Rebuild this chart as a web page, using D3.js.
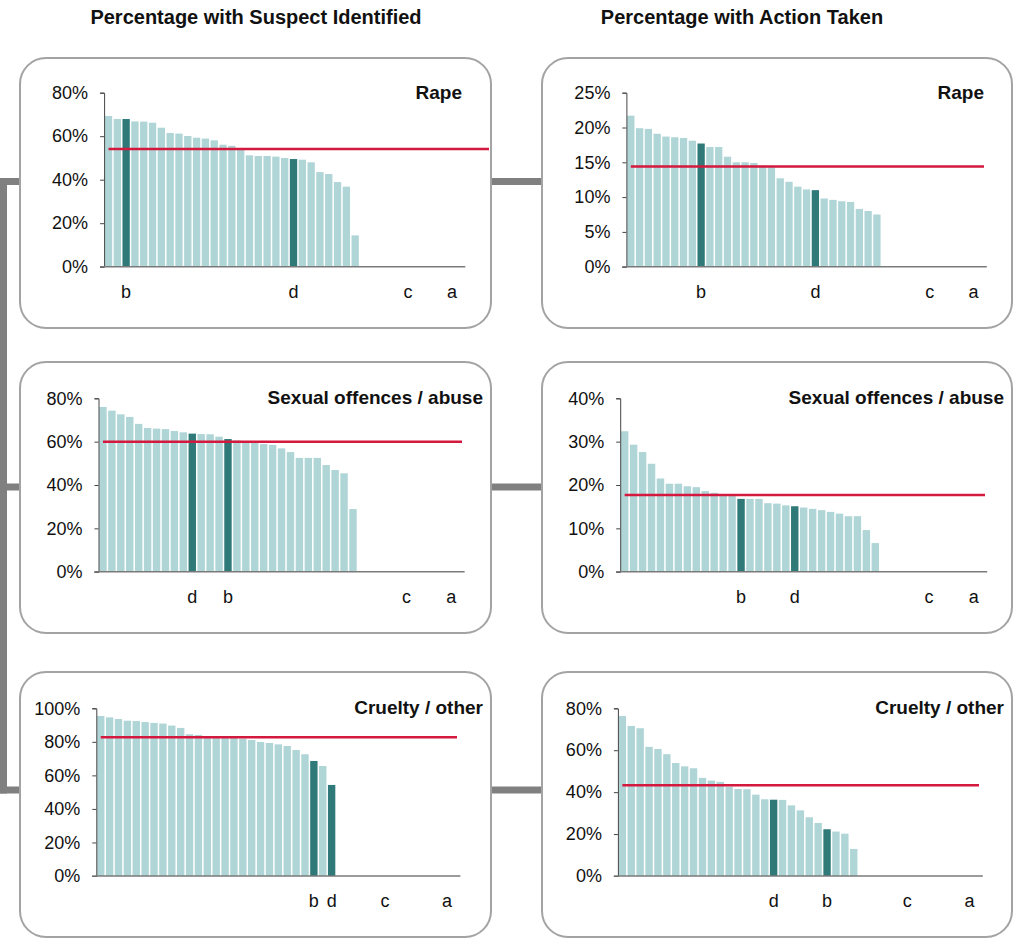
<!DOCTYPE html>
<html>
<head>
<meta charset="utf-8">
<script src="https://cdn.jsdelivr.net/npm/d3@7"></script>
<style>
  html, body { margin: 0; padding: 0; background: #fff; }
  svg { display: block; font-family: "Liberation Sans", Arial, sans-serif; }
</style>
</head>
<body>
<svg id="chart" width="1015" height="940"></svg>
<script>
// ---------- DATA ----------
const columnTitles = ["Percentage with Suspect Identified", "Percentage with Action Taken"];
const panelTitles = ["Rape", "Sexual offences / abuse", "Cruelty / other"];
const categoryCount = 41; // ranked units on each x axis

// Percentage with suspect identified (sorted, %)
const suspectRape = [69.3, 67.9, 67.9, 66.8, 66.7, 66.2, 63.9, 61.5, 61.2, 60.1,
  59.3, 58.9, 58.1, 56.1, 55.6, 54.0, 51.2, 50.9, 50.9, 50.6,
  50.0, 49.5, 49.2, 48.0, 43.5, 42.6, 38.9, 36.8, 14.4];
const suspectSexual = [76.0, 74.3, 72.6, 71.4, 68.2, 66.3, 66.0, 65.8, 64.9, 64.3,
  63.7, 63.5, 63.4, 62.3, 61.2, 60.6, 60.3, 59.5, 58.9, 58.5,
  56.9, 55.2, 52.5, 52.5, 52.5, 49.2, 46.9, 45.4, 28.9];
const suspectCruelty = [95.4, 94.6, 93.6, 92.6, 92.4, 91.8, 91.3, 90.9, 89.7, 88.3,
  84.5, 84.1, 83.1, 82.9, 82.7, 82.5, 81.9, 81.1, 79.9, 79.3,
  78.5, 77.5, 75.1, 72.6, 68.6, 65.6, 54.3];

// Percentage with action taken (sorted, %)
const actionRape = [21.7, 19.9, 19.8, 19.1, 18.7, 18.6, 18.5, 18.1, 17.7, 17.2,
  17.2, 15.8, 15.0, 15.0, 14.9, 14.5, 14.3, 12.7, 12.2, 11.5,
  11.1, 11.0, 9.8, 9.6, 9.4, 9.3, 8.3, 8.0, 7.5];
const actionSexual = [32.4, 29.3, 27.6, 24.9, 21.5, 20.3, 20.3, 19.7, 19.5, 18.6,
  18.2, 17.7, 17.6, 16.8, 16.8, 16.8, 15.8, 15.7, 15.3, 15.1,
  14.8, 14.5, 14.2, 13.8, 13.4, 12.8, 12.8, 9.6, 6.6];
const actionCruelty = [76.3, 71.6, 70.5, 61.6, 60.6, 58.1, 53.9, 52.3, 51.4, 46.8,
  45.5, 44.9, 42.6, 41.5, 41.4, 38.8, 36.6, 36.4, 36.3, 33.7,
  31.3, 28.0, 25.3, 22.3, 21.2, 20.2, 12.9];

// Rank (category index) of the named units in each panel
const suspectRapeNamed = { b: 2, d: 21, c: 34, a: 39 };
const suspectSexualNamed = { d: 10, b: 14, c: 34, a: 39 };
const suspectCrueltyNamed = { b: 24, d: 26, c: 32, a: 39 };
const actionRapeNamed = { b: 8, d: 21, c: 34, a: 39 };
const actionSexualNamed = { b: 13, d: 19, c: 34, a: 39 };
const actionCrueltyNamed = { d: 17, b: 23, c: 32, a: 39 };

// Overall average (red reference line, %)
const suspectAverages = [54.1, 60.0, 82.7];
const actionAverages = [14.4, 17.7, 43.3];

// Y axis tick values (%)
const ticksRape = [[0, 20, 40, 60, 80], [0, 5, 10, 15, 20, 25]];
const ticksSexual = [[0, 20, 40, 60, 80], [0, 10, 20, 30, 40]];
const ticksCruelty = [[0, 20, 40, 60, 80, 100], [0, 20, 40, 60, 80]];

// ---------- LAYOUT ----------
const colBox = [[20, 491], [542, 1012]];
const rowBox = [[58, 328], [362, 633], [672, 937]];
const rowPlotY = [[92.7, 266.7], [398.3, 571.7], [708.3, 876]];
const plotX = [
  [[104.1, 465.3], [626.4, 986.8]],
  [[98.5, 464.6], [620.2, 987.2]],
  [[96.3, 460.4], [617.9, 982.8]]
];
const lineEnd = [[489, 984], [462, 985], [457, 979]];
const titleRight = [[462, 984], [483, 1004], [483, 1004]];
const connectorY = [181.5, 487, 790];

const colors = { light: "#afd5d7", dark: "#2f7a79", red: "#d3193d", box: "#a3a3a3", conn: "#808080" };

const panels = [
  [{ v: suspectRape, n: suspectRapeNamed, avg: suspectAverages[0], ticks: ticksRape[0] },
   { v: actionRape, n: actionRapeNamed, avg: actionAverages[0], ticks: ticksRape[1] }],
  [{ v: suspectSexual, n: suspectSexualNamed, avg: suspectAverages[1], ticks: ticksSexual[0] },
   { v: actionSexual, n: actionSexualNamed, avg: actionAverages[1], ticks: ticksSexual[1] }],
  [{ v: suspectCruelty, n: suspectCrueltyNamed, avg: suspectAverages[2], ticks: ticksCruelty[0] },
   { v: actionCruelty, n: actionCrueltyNamed, avg: actionAverages[2], ticks: ticksCruelty[1] }]
];

const svg = d3.select("#chart");

// Connectors (drawn first, behind boxes)
const conn = svg.append("g").attr("fill", colors.conn);
conn.append("rect").attr("x", 0).attr("y", connectorY[0] - 3.5).attr("width", 7)
  .attr("height", connectorY[2] - connectorY[0] + 7);
connectorY.forEach(cy => {
  conn.append("rect").attr("x", 0).attr("y", cy - 3.5).attr("width", colBox[0][0]).attr("height", 7);
  conn.append("rect").attr("x", colBox[0][1]).attr("y", cy - 3.5)
    .attr("width", colBox[1][0] - colBox[0][1]).attr("height", 7);
});

// Column titles
columnTitles.forEach((t, c) => {
  svg.append("text").attr("x", c === 0 ? 256 : 742)
    .attr("y", 24).attr("text-anchor", "middle")
    .attr("font-size", "20px").attr("font-weight", "bold").attr("fill", "#111").text(t);
});

panels.forEach((row, r) => {
  row.forEach((p, c) => {
    const g = svg.append("g");
    // box
    g.append("rect")
      .attr("x", colBox[c][0]).attr("y", rowBox[r][0])
      .attr("width", colBox[c][1] - colBox[c][0]).attr("height", rowBox[r][1] - rowBox[r][0])
      .attr("rx", 26).attr("ry", 26)
      .attr("fill", "#fff").attr("stroke", colors.box).attr("stroke-width", 2);

    const cats = d3.range(categoryCount);
    const nameAt = {};
    Object.entries(p.n).forEach(([k, i]) => nameAt[i] = k);

    const x = d3.scaleBand().domain(cats).range(plotX[r][c]).paddingInner(0.17).paddingOuter(0.085);
    const yMax = p.ticks[p.ticks.length - 1];
    const y = d3.scaleLinear().domain([0, yMax]).range([rowPlotY[r][1], rowPlotY[r][0]]);

    // bars
    const data = p.v.map((val, i) => ({ i, val, named: nameAt[i] !== undefined }));
    g.selectAll(".bar").data(data).enter().append("rect")
      .attr("x", d => x(d.i)).attr("width", x.bandwidth())
      .attr("y", d => y(d.val)).attr("height", d => y(0) - y(d.val))
      .attr("fill", d => d.named ? colors.dark : colors.light);

    // y axis
    const yAxis = d3.axisLeft(y).tickValues(p.ticks).tickFormat(d => d + "%").tickSize(4).tickPadding(12);
    const ya = g.append("g").attr("transform", `translate(${plotX[r][c][0]},0)`).call(yAxis);
    ya.select(".domain").attr("stroke", "#444").attr("stroke-width", 1);
    ya.selectAll(".tick line").attr("stroke", "#444");
    ya.selectAll(".tick text").attr("font-size", "18px").attr("fill", "#111")
      .attr("font-family", "'Liberation Sans', Arial, sans-serif");

    // x axis baseline
    g.append("line")
      .attr("x1", plotX[r][c][0] - 4).attr("x2", plotX[r][c][1])
      .attr("y1", y(0)).attr("y2", y(0))
      .attr("stroke", "#7a7a7a").attr("stroke-width", 1.5);

    // named category labels
    g.selectAll(".xl").data(Object.entries(p.n)).enter().append("text")
      .attr("x", d => x(d[1]) + x.bandwidth() / 2)
      .attr("y", y(0) + 31)
      .attr("text-anchor", "middle").attr("font-size", "18px").attr("fill", "#111")
      .text(d => d[0]);

    // average line
    g.append("line")
      .attr("x1", x(0) + x.bandwidth() / 2).attr("x2", lineEnd[r][c])
      .attr("y1", y(p.avg)).attr("y2", y(p.avg))
      .attr("stroke", colors.red).attr("stroke-width", 2.5);

    // panel title
    g.append("text").attr("x", titleRight[r][c]).attr("y", rowPlotY[r][0] + 6)
      .attr("text-anchor", "end").attr("font-size", "19px").attr("font-weight", "bold")
      .attr("fill", "#111").text(panelTitles[r]);
  });
});
</script>
</body>
</html>
